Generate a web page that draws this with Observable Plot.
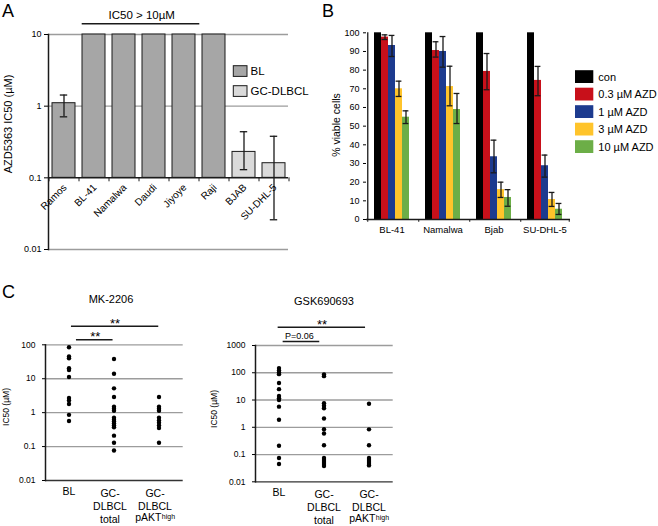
<!DOCTYPE html>
<html><head><meta charset="utf-8">
<script src="https://cdn.jsdelivr.net/npm/d3@7"></script>
<script src="https://cdn.jsdelivr.net/npm/@observablehq/plot@0.6"></script>
<style>
body{margin:0;background:#fff;}
#fig{position:relative;width:658px;height:526px;overflow:hidden;background:#fff;color:#000;font-family:"Liberation Sans",Arial,sans-serif;}
</style></head>
<body><div id="fig"></div>
<script>
const FONT = '"Liberation Sans", Arial, sans-serif';
const GRID = "#9c9c9c";
const INK = "#1a1a1a";

// ---------- Panel A ----------
const cellsA = ["Ramos","BL-41","Namalwa","Daudi","Jiyoye","Raji","BJAB","SU-DHL-5"];
const typeA  = ["BL","BL","BL","BL","BL","BL","GC-DLBCL","GC-DLBCL"];
const ic50A  = [1.1, 10, 10, 10, 10, 10, 0.23, 0.16];
const errLoA = [0.71, null, null, null, null, null, 0.13, 0.026];
const errHiA = [1.43, null, null, null, null, null, 0.44, 0.38];
const typesA = ["BL","GC-DLBCL"];
const typeColorsA = ["#a6a6a6","#dadada"];
const ticksA = [0.01, 0.1, 1, 10];
const gridA = [0.01, 1, 10];

// ---------- Panel B ----------
const cellsB = ["BL-41","Namalwa","Bjab","SU-DHL-5"];
const dosesB = ["con","0.3 µM AZD","1 µM AZD","3 µM AZD","10 µM AZD"];
const doseColorsB = ["#000000","#c8101a","#1d3b8f","#ffc42b","#6cae47"];
const viableB = [
  [100, 97.7, 93.2, 70.0, 54.8],
  [100, 90.5, 90.0, 71.2, 58.9],
  [100, 79.3, 33.6, 16.0, 11.8],
  [100, 74.5, 28.8, 10.7, 5.5]
];
const loB = [
  [null, 96.4, 87.3, 65.9, 51.4],
  [null, 87.0, 81.6, 60.9, 51.4],
  [null, 69.5, 25.0, 11.8, 7.1],
  [null, 66.3, 22.7, 7.0, 2.7]
];
const hiB = [
  [null, 98.9, 98.6, 74.1, 58.2],
  [null, 95.2, 98.0, 82.1, 67.5],
  [null, 88.9, 42.5, 20.0, 16.0],
  [null, 82.0, 34.5, 14.5, 8.6]
];
const ticksB = [0,10,20,30,40,50,60,70,80,90,100];

// ---------- Panel C ----------
const groupsC = ["BL","GC-DLBCL total","GC-DLBCL pAKThigh"];
const groupLinesC = ["BL","GC-\nDLBCL\ntotal","GC-\nDLBCL"];
const mkBL    = [85, 45, 40, 20.5, 18, 11.2, 2.7, 2.3, 1.8, 0.86, 0.57];
const mkTotal = [38, 14, 5.2, 2.9, 1.5, 1.3, 1.14, 0.71, 0.62, 0.55, 0.48, 0.42, 0.37, 0.21, 0.13, 0.077];
const mkPakt  = [2.9, 1.5, 1.3, 1.14, 0.71, 0.59, 0.5, 0.42, 0.35, 0.13];
const gskBL    = [148, 122, 103, 89, 42, 25, 14, 11.5, 10, 5.7, 1.9, 0.21, 0.075, 0.045];
const gskTotal = [87, 75, 7.6, 6.1, 5, 2.1, 0.85, 0.59, 0.22, 0.075, 0.063, 0.053, 0.045, 0.038];
const gskPakt  = [7.3, 0.84, 0.22, 0.075, 0.063, 0.053, 0.045, 0.04];
const ticksMK  = [0.01, 0.1, 1, 10, 100];
const ticksGSK = [0.01, 0.1, 1, 10, 100, 1000];

const fig = document.getElementById("fig");
function place(svg, left, top) {
  svg.style.position = "absolute";
  svg.style.left = left + "px";
  svg.style.top = top + "px";
  svg.style.background = "transparent";
  svg.style.overflow = "visible";
  svg.style.maxWidth = "none";
  svg.style.fontFamily = FONT;
  fig.appendChild(svg);
}

// ===== Panel A plot =====
const dataA = cellsA.map((c, i) => ({cell: c, type: typeA[i], ic50: ic50A[i], lo: errLoA[i], hi: errHiA[i]}));
const errA = dataA.filter(d => d.lo != null);
const plotA = Plot.plot({
  width: 325, height: 270,
  marginLeft: 48, marginRight: 37, marginTop: 34, marginBottom: 21,
  x: {type: "band", domain: cellsA, paddingInner: 0.25, paddingOuter: 0.125, axis: null},
  y: {type: "log", domain: [0.01, 10]},
  color: {domain: typesA, range: typeColorsA},
  marks: [
    Plot.ruleY(gridA, {stroke: GRID, strokeWidth: 1.3}),
    Plot.barY(dataA, {x: "cell", y1: () => 0.1, y2: "ic50", fill: "type", stroke: INK, strokeWidth: 1}),
    Plot.ruleX(errA, {x: "cell", y1: "lo", y2: "hi", stroke: INK, strokeWidth: 1.3}),
    Plot.tickY(errA, {x: "cell", y: "lo", stroke: INK, strokeWidth: 1.3, insetLeft: 7.8, insetRight: 7.8}),
    Plot.tickY(errA, {x: "cell", y: "hi", stroke: INK, strokeWidth: 1.3, insetLeft: 7.8, insetRight: 7.8}),
    Plot.ruleY([0.1], {stroke: INK, strokeWidth: 1.5}),
    Plot.ruleX(cellsA, {x: d => d, y1: () => 0.1, y2: () => 0.088, dx: -15, stroke: INK, strokeWidth: 1}),
    Plot.ruleX(cellsA.slice(-1), {x: d => d, y1: () => 0.1, y2: () => 0.088, dx: 15, stroke: INK, strokeWidth: 1}),
    Plot.frame({anchor: "left", stroke: INK, strokeWidth: 1.5}),
    Plot.axisY({ticks: ticksA, tickFormat: d => String(d), tickSize: 4, tickPadding: 3, fontSize: 9, label: null}),
    Plot.text(cellsA, {x: d => d, y: () => 0.1, text: d => d, rotate: -45, textAnchor: "end", dx: 1, dy: 8, fontSize: 10})
  ]
});
place(plotA, 0, 0);

// ===== Panel B plot =====
const dataB = cellsB.flatMap((c, i) => dosesB.map((d, j) => ({cell: c, dose: d, value: viableB[i][j], lo: loB[i][j], hi: hiB[i][j]})));
const errB = dataB.filter(d => d.lo != null);
const stepOff = 10.24;
const plotB = Plot.plot({
  width: 333, height: 270,
  marginLeft: 40, marginRight: 87.3, marginTop: 32.3, marginBottom: 51,
  fx: {domain: cellsB, padding: 0, label: null},
  x: {domain: dosesB, paddingInner: 0, paddingOuter: 0.82, axis: null},
  y: {domain: [0, 100]},
  color: {domain: dosesB, range: doseColorsB},
  marks: [
    Plot.barY(dataB, {fx: "cell", x: "dose", y: "value", fill: "dose"}),
    Plot.ruleX(errB, {fx: "cell", x: "dose", y1: "lo", y2: "hi", stroke: INK, strokeWidth: 1.3}),
    Plot.tickY(errB, {fx: "cell", x: "dose", y: "lo", stroke: INK, strokeWidth: 1.3, insetLeft: 0.6, insetRight: 0.6}),
    Plot.tickY(errB, {fx: "cell", x: "dose", y: "hi", stroke: INK, strokeWidth: 1.3, insetLeft: 0.6, insetRight: 0.6}),
    Plot.ruleY([0], {stroke: INK, strokeWidth: 1.3}),
    Plot.ruleX(cellsB.slice(0, 1), {fx: d => d, x: () => dosesB[0], y1: () => 0, y2: () => 100, dx: -stepOff, stroke: INK, strokeWidth: 1.3}),
    Plot.ruleX(cellsB, {fx: d => d, x: () => dosesB[0], y1: () => 0, y2: () => -1.5, dx: -stepOff, stroke: INK, strokeWidth: 1}),
    Plot.ruleX(cellsB.slice(-1), {fx: d => d, x: () => dosesB[4], y1: () => 0, y2: () => -1.5, dx: stepOff, stroke: INK, strokeWidth: 1}),
    Plot.axisY({ticks: ticksB, tickSize: 3, tickPadding: 4, fontSize: 9, label: null}),
    Plot.axisFx({anchor: "bottom", tickSize: 0, tickPadding: 7, fontSize: 9.5, label: null})
  ]
});
place(plotB, 325, 0);

// ===== Panel C plots =====
// band half-width (px) used to bring rule ends from band edges to band centres
const HALF = 22.95;
const LH = 1.25, LFS = 10.5, LPAD = 6.8;
function scatterPanel(o) {
  const data = [
    ...o.bl.map(v => ({group: groupsC[0], ic50: v})),
    ...o.total.map(v => ({group: groupsC[1], ic50: v})),
    ...o.pakt.map(v => ({group: groupsC[2], ic50: v}))
  ];
  const s = o.labelShift || 0;
  const line3 = LPAD + 2 * LH * LFS;
  return Plot.plot({
    width: o.width, height: 256,
    marginLeft: o.mL, marginRight: o.mR, marginTop: o.mT, marginBottom: o.mB,
    x: {type: "band", domain: groupsC, padding: 0, axis: null},
    y: {type: "log", domain: [o.ticks[0], o.ticks[o.ticks.length - 1]]},
    marks: [
      Plot.ruleY(o.ticks.slice(1), {stroke: GRID, strokeWidth: 1.3}),
      Plot.ruleY(o.ticks.slice(0, 1), {stroke: "#333", strokeWidth: 1.3}),
      Plot.frame({anchor: "left", stroke: INK, strokeWidth: 1.5}),
      Plot.axisY({ticks: o.ticks, tickFormat: d => String(d), tickSize: 3, tickPadding: 7, fontSize: 8.5, label: null}),
      Plot.text(groupsC.slice(0, 1), {x: d => d, text: d => groupLinesC[0], frameAnchor: "bottom", lineAnchor: "top", dy: LPAD, fontSize: LFS}),
      Plot.text(groupsC.slice(1), {x: d => d, text: (d, i) => groupLinesC[i + 1], frameAnchor: "bottom", lineAnchor: "top", dx: s, dy: LPAD, fontSize: LFS, lineHeight: LH}),
      Plot.text(groupsC.slice(2), {x: d => d, text: () => "pAKT", frameAnchor: "bottom", lineAnchor: "top", textAnchor: "end", dx: 6.5 + s, dy: line3, fontSize: LFS}),
      Plot.text(groupsC.slice(2), {x: d => d, text: () => "high", frameAnchor: "bottom", lineAnchor: "top", textAnchor: "start", dx: 6.8 + s, dy: line3, fontSize: 7}),
      Plot.dot(data, {x: "group", y: "ic50", r: 2.2, fill: "#000"}),
      ...o.extra
    ]
  });
}
const topMK = ticksMK[ticksMK.length - 1];
const plotMK = scatterPanel({
  bl: mkBL, total: mkTotal, pakt: mkPakt, ticks: ticksMK, labelShift: -4,
  width: 215, mL: 45, mR: 32.3, mT: 74.3, mB: 46,
  extra: [
    Plot.ruleY([topMK], {x1: () => groupsC[0], x2: () => groupsC[2], dy: -18.6, insetLeft: HALF + 2, insetRight: HALF - 0.2, stroke: INK, strokeWidth: 1.5}),
    Plot.ruleY([topMK], {x1: () => groupsC[0], x2: () => groupsC[1], dy: -5, insetLeft: HALF + 7, insetRight: HALF + 0.5, stroke: INK, strokeWidth: 1.5}),
    Plot.text(["**"], {x: () => groupsC[1], y: () => topMK, text: d => d, lineAnchor: "bottom", dx: 1, dy: -17, fontSize: 13}),
    Plot.text(["**"], {x: () => groupsC[1], y: () => topMK, text: d => d, lineAnchor: "bottom", dx: -18.8, dy: -3.6, fontSize: 13})
  ]
});
place(plotMK, 0, 270);

const topGSK = ticksGSK[ticksGSK.length - 1];
const plotGSK = scatterPanel({
  bl: gskBL, total: gskTotal, pakt: gskPakt, ticks: ticksGSK, labelShift: 0,
  width: 443, mL: 40, mR: 265.3, mT: 75, mB: 44.7,
  extra: [
    Plot.ruleY([topGSK], {x1: () => groupsC[0], x2: () => groupsC[2], dy: -18.3, insetLeft: HALF - 1.3, insetRight: HALF + 3, stroke: INK, strokeWidth: 1.5}),
    Plot.ruleY([topGSK], {x1: () => groupsC[0], x2: () => groupsC[1], dy: -4, insetLeft: HALF + 3.7, insetRight: HALF + 3.8, stroke: INK, strokeWidth: 1.5}),
    Plot.text(["**"], {x: () => groupsC[1], y: () => topGSK, text: d => d, lineAnchor: "bottom", dx: -2, dy: -16.7, fontSize: 13}),
    Plot.text(["P=0.06"], {x: () => groupsC[1], y: () => topGSK, text: d => d, lineAnchor: "bottom", dx: -24.6, dy: -7, fontSize: 9})
  ]
});
place(plotGSK, 215, 270);

// ===== Annotation overlay: panel letters, titles, legends =====
const ov = d3.select(fig).append("svg")
  .attr("width", 658).attr("height", 526)
  .style("position", "absolute").style("left", "0px").style("top", "0px")
  .style("overflow", "visible").style("pointer-events", "none")
  .style("font-family", FONT);
function t(x, y, s, o = {}) {
  ov.append("text").attr("x", x).attr("y", y)
    .attr("font-size", o.size || 11)
    .attr("text-anchor", o.anchor || "start")
    .attr("transform", o.rot ? `rotate(${o.rot},${x},${y})` : null)
    .attr("fill", "#000")
    .text(s);
}
t(2, 17, "A", {size: 18});
t(322, 17, "B", {size: 18});
t(2, 298, "C", {size: 18});

t(141.7, 18.5, "IC50 > 10µM", {size: 11.5, anchor: "middle"});
ov.append("line").attr("x1", 81.7).attr("x2", 199.3).attr("y1", 23.7).attr("y2", 23.7).attr("stroke", INK).attr("stroke-width", 1.5);
t(11.5, 124, "AZD5363 IC50 (µM)", {size: 11, anchor: "middle", rot: -90});

// legend A
typesA.forEach((ty, i) => {
  const y = 65.7 + i * 20;
  ov.append("rect").attr("x", 233.3).attr("y", y).attr("width", 13.7).attr("height", 10.7)
    .attr("fill", typeColorsA[i]).attr("stroke", INK).attr("stroke-width", 1);
  t(250.5, y + 9.4, ty, {size: 11.5});
});

// panel B y title and legend
t(340, 125, "% viable cells", {size: 10.5, anchor: "middle", rot: -90});
dosesB.forEach((d, i) => {
  const cy = 76.6 + i * 17.5;
  ov.append("rect").attr("x", 575).attr("y", cy - 6.4).attr("width", 18.3).attr("height", 12.8).attr("fill", doseColorsB[i]);
  t(598.3, cy + 4, d, {size: 11});
});

// panel C titles
t(111, 303, "MK-2206", {size: 11, anchor: "middle"});
t(324, 305, "GSK690693", {size: 11, anchor: "middle"});
t(9, 407, "IC50 (µM)", {size: 8.5, anchor: "middle", rot: -90});
t(217, 409, "IC50 (µM)", {size: 8.5, anchor: "middle", rot: -90});
</script>
</body></html>
